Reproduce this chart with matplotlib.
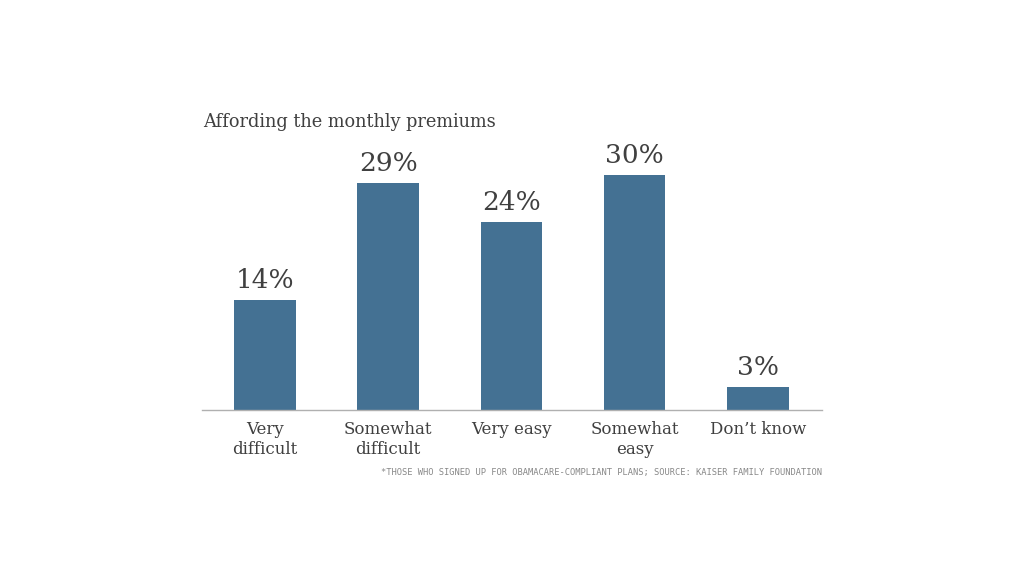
import matplotlib.pyplot as plt

# === Données du graphique ===
categories = ["Very\ndifficult", "Somewhat\ndifficult", "Very easy", "Somewhat\neasy", "Don\u2019t know"]
values = [14, 29, 24, 30, 3]
labels = ["14%", "29%", "24%", "30%", "3%"]

BAR_COLOR = "#447193"
TEXT_COLOR = "#404040"

fig = plt.figure(figsize=(10.24, 5.76), dpi=100)
ax = fig.add_axes([202 / 1024, 1 - 410 / 576, 620 / 1024, 270 / 576])

x = list(range(len(values)))
ax.bar(x, values, width=0.5, color=BAR_COLOR)
ax.set_xlim(-0.51, 4.52)
ax.set_ylim(0, 34.5)

# === Étiquettes de valeur au-dessus des barres ===
for xi, v, lab in zip(x, values, labels):
    ax.annotate(lab, (xi, v), xytext=(0, 5), textcoords="offset points",
                ha="center", va="bottom", fontsize=19, color=TEXT_COLOR,
                family="DejaVu Serif")

# === Axes ===
for s in ["top", "right", "left"]:
    ax.spines[s].set_visible(False)
ax.spines["bottom"].set_color("#b0b0b0")
ax.spines["bottom"].set_linewidth(1)
ax.set_yticks([])
ax.set_xticks(x)
ax.set_xticklabels(categories, fontsize=12, color=TEXT_COLOR, family="DejaVu Serif",
                   linespacing=1.25)
ax.tick_params(axis="x", length=0, pad=8)

# === Titre et source ===
fig.text(203 / 1024, 1 - 127 / 576, "Affording the monthly premiums", fontsize=12.8,
         color=TEXT_COLOR, family="DejaVu Serif", ha="left", va="baseline")
fig.text(822 / 1024, 1 - 473 / 576,
         "*THOSE WHO SIGNED UP FOR OBAMACARE-COMPLIANT PLANS; SOURCE: KAISER FAMILY FOUNDATION",
         fontsize=6.3, color="#888888", family="DejaVu Sans Mono", ha="right", va="center")

fig.savefig("out.png", dpi=100)
